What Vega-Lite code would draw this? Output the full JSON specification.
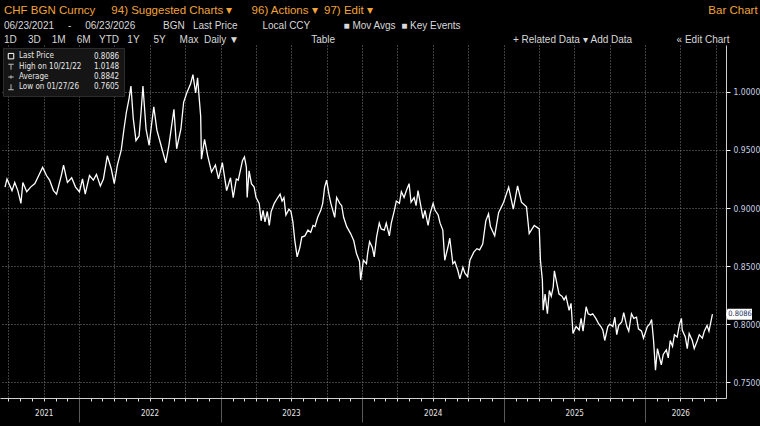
{
  "$schema": "https://vega.github.io/schema/vega-lite/v6.json",
  "description": "CHF BGN Curncy, last price, daily, 06/23/2021 - 06/23/2026",
  "width": 760,
  "height": 426,
  "autosize": {"type": "fit", "contains": "padding"},
  "padding": {"top": 4, "left": 0, "right": 0, "bottom": 3},
  "background": "#000000",
  "title": {
    "text": "CHF BGN Curncy\u00a0\u00a0\u00a0\u00a0\u00a094) Suggested Charts ▾\u00a0\u00a0\u00a0\u00a0\u00a0\u00a096) Actions ▾\u00a0\u00a097) Edit ▾\u00a0\u00a0\u00a0\u00a0\u00a0\u00a0\u00a0\u00a0\u00a0\u00a0\u00a0\u00a0\u00a0\u00a0\u00a0\u00a0\u00a0\u00a0\u00a0\u00a0\u00a0\u00a0\u00a0\u00a0\u00a0\u00a0\u00a0\u00a0\u00a0\u00a0\u00a0\u00a0\u00a0\u00a0\u00a0\u00a0\u00a0\u00a0\u00a0\u00a0\u00a0\u00a0\u00a0\u00a0\u00a0\u00a0\u00a0\u00a0\u00a0\u00a0\u00a0\u00a0\u00a0\u00a0\u00a0\u00a0\u00a0\u00a0\u00a0\u00a0\u00a0\u00a0\u00a0\u00a0\u00a0\u00a0\u00a0\u00a0\u00a0\u00a0\u00a0\u00a0\u00a0\u00a0\u00a0\u00a0\u00a0\u00a0\u00a0\u00a0\u00a0\u00a0\u00a0\u00a0\u00a0\u00a0\u00a0\u00a0\u00a0\u00a0\u00a0\u00a0\u00a0\u00a0\u00a0\u00a0\u00a0\u00a0\u00a0\u00a0\u00a0\u00a0\u00a0\u00a0\u00a0Bar Chart",
    "subtitle": [
      "06/23/2021\u00a0\u00a0\u00a0\u00a0\u00a0-\u00a0\u00a0\u00a0\u00a0\u00a006/23/2026\u00a0\u00a0\u00a0\u00a0\u00a0\u00a0\u00a0\u00a0\u00a0\u00a0BGN\u00a0\u00a0\u00a0Last Price\u00a0\u00a0\u00a0\u00a0\u00a0\u00a0\u00a0\u00a0\u00a0Local CCY\u00a0\u00a0\u00a0\u00a0\u00a0\u00a0\u00a0\u00a0\u00a0\u00a0\u00a0\u00a0■ Mov Avgs\u00a0\u00a0■ Key Events",
      "\u00a0\u00a01D\u00a0\u00a0\u00a0\u00a03D\u00a0\u00a0\u00a0\u00a01M\u00a0\u00a0\u00a0\u00a06M\u00a0\u00a0\u00a0YTD\u00a0\u00a0\u00a01Y\u00a0\u00a0\u00a0\u00a0\u00a05Y\u00a0\u00a0\u00a0\u00a0\u00a0Max\u00a0\u00a0Daily ▼\u00a0\u00a0\u00a0\u00a0\u00a0\u00a0\u00a0\u00a0\u00a0\u00a0\u00a0\u00a0\u00a0\u00a0\u00a0\u00a0\u00a0\u00a0\u00a0\u00a0\u00a0\u00a0\u00a0\u00a0\u00a0\u00a0Table\u00a0\u00a0\u00a0\u00a0\u00a0\u00a0\u00a0\u00a0\u00a0\u00a0\u00a0\u00a0\u00a0\u00a0\u00a0\u00a0\u00a0\u00a0\u00a0\u00a0\u00a0\u00a0\u00a0\u00a0\u00a0\u00a0\u00a0\u00a0\u00a0\u00a0\u00a0\u00a0\u00a0\u00a0\u00a0\u00a0\u00a0\u00a0\u00a0\u00a0\u00a0\u00a0\u00a0\u00a0\u00a0\u00a0\u00a0\u00a0\u00a0\u00a0\u00a0\u00a0\u00a0\u00a0\u00a0\u00a0\u00a0\u00a0\u00a0\u00a0\u00a0\u00a0\u00a0\u00a0+ Related Data ▾\u00a0Add Data\u00a0\u00a0\u00a0\u00a0\u00a0\u00a0\u00a0\u00a0\u00a0\u00a0\u00a0\u00a0\u00a0\u00a0\u00a0\u00a0« Edit Chart"
    ],
    "anchor": "start",
    "dx": 4,
    "font": "Liberation Sans, Arial, sans-serif",
    "subtitleFont": "Liberation Sans, Arial, sans-serif",
    "color": "#f2a33a",
    "fontSize": 11.5,
    "fontWeight": "normal",
    "subtitleColor": "#d8d8d8",
    "subtitleFontSize": 10,
    "subtitleLineHeight": 14,
    "subtitlePadding": 5,
    "offset": 0
  },
  "config": {
    "font": "Liberation Sans Narrow, DejaVu Sans Condensed, Liberation Sans, sans-serif",
    "view": {"stroke": null, "fill": "#000000"}
  },
  "data": {
    "values": [
      {"date": "2021-06-23", "price": 0.918}, {"date": "2021-06-28", "price": 0.925},
      {"date": "2021-07-11", "price": 0.915}, {"date": "2021-07-18", "price": 0.922},
      {"date": "2021-07-26", "price": 0.915}, {"date": "2021-08-03", "price": 0.904},
      {"date": "2021-08-08", "price": 0.922}, {"date": "2021-08-18", "price": 0.914},
      {"date": "2021-08-28", "price": 0.918}, {"date": "2021-09-08", "price": 0.921},
      {"date": "2021-09-18", "price": 0.928}, {"date": "2021-09-28", "price": 0.935},
      {"date": "2021-10-08", "price": 0.928}, {"date": "2021-10-16", "price": 0.924},
      {"date": "2021-10-26", "price": 0.915}, {"date": "2021-11-03", "price": 0.912},
      {"date": "2021-11-16", "price": 0.929}, {"date": "2021-11-21", "price": 0.937},
      {"date": "2021-12-01", "price": 0.922}, {"date": "2021-12-12", "price": 0.926},
      {"date": "2021-12-22", "price": 0.918}, {"date": "2022-01-01", "price": 0.914},
      {"date": "2022-01-09", "price": 0.925}, {"date": "2022-01-16", "price": 0.912},
      {"date": "2022-01-27", "price": 0.928}, {"date": "2022-02-06", "price": 0.924},
      {"date": "2022-02-14", "price": 0.929}, {"date": "2022-02-24", "price": 0.919},
      {"date": "2022-03-04", "price": 0.925}, {"date": "2022-03-14", "price": 0.945},
      {"date": "2022-03-24", "price": 0.934}, {"date": "2022-04-01", "price": 0.921},
      {"date": "2022-04-09", "price": 0.937}, {"date": "2022-04-19", "price": 0.950},
      {"date": "2022-04-26", "price": 0.968}, {"date": "2022-05-02", "price": 0.982},
      {"date": "2022-05-09", "price": 0.994}, {"date": "2022-05-14", "price": 1.005},
      {"date": "2022-05-20", "price": 0.977}, {"date": "2022-05-27", "price": 0.958},
      {"date": "2022-06-04", "price": 0.962}, {"date": "2022-06-09", "price": 0.982},
      {"date": "2022-06-14", "price": 1.005}, {"date": "2022-06-22", "price": 0.968},
      {"date": "2022-06-30", "price": 0.954}, {"date": "2022-07-07", "price": 0.974},
      {"date": "2022-07-12", "price": 0.987}, {"date": "2022-07-20", "price": 0.967},
      {"date": "2022-08-02", "price": 0.951}, {"date": "2022-08-12", "price": 0.939},
      {"date": "2022-08-20", "price": 0.954}, {"date": "2022-09-02", "price": 0.985},
      {"date": "2022-09-09", "price": 0.951}, {"date": "2022-09-20", "price": 0.968},
      {"date": "2022-09-27", "price": 0.991}, {"date": "2022-10-05", "price": 0.999},
      {"date": "2022-10-15", "price": 1.007}, {"date": "2022-10-21", "price": 1.0148},
      {"date": "2022-10-28", "price": 0.999}, {"date": "2022-11-02", "price": 1.012},
      {"date": "2022-11-10", "price": 0.979}, {"date": "2022-11-12", "price": 0.942},
      {"date": "2022-11-20", "price": 0.959}, {"date": "2022-11-28", "price": 0.945},
      {"date": "2022-12-08", "price": 0.931}, {"date": "2022-12-18", "price": 0.937},
      {"date": "2022-12-26", "price": 0.925}, {"date": "2023-01-05", "price": 0.939},
      {"date": "2023-01-16", "price": 0.915}, {"date": "2023-01-26", "price": 0.926},
      {"date": "2023-02-02", "price": 0.909}, {"date": "2023-02-10", "price": 0.925},
      {"date": "2023-02-15", "price": 0.924}, {"date": "2023-02-26", "price": 0.941},
      {"date": "2023-03-03", "price": 0.944}, {"date": "2023-03-08", "price": 0.935},
      {"date": "2023-03-10", "price": 0.909}, {"date": "2023-03-15", "price": 0.932},
      {"date": "2023-03-21", "price": 0.921}, {"date": "2023-03-28", "price": 0.918},
      {"date": "2023-04-02", "price": 0.909}, {"date": "2023-04-10", "price": 0.904},
      {"date": "2023-04-15", "price": 0.889}, {"date": "2023-04-20", "price": 0.898},
      {"date": "2023-04-25", "price": 0.888}, {"date": "2023-05-01", "price": 0.897},
      {"date": "2023-05-06", "price": 0.885}, {"date": "2023-05-11", "price": 0.897},
      {"date": "2023-05-19", "price": 0.904}, {"date": "2023-05-26", "price": 0.908},
      {"date": "2023-06-03", "price": 0.912}, {"date": "2023-06-08", "price": 0.906},
      {"date": "2023-06-13", "price": 0.909}, {"date": "2023-06-18", "price": 0.894},
      {"date": "2023-06-26", "price": 0.899}, {"date": "2023-07-01", "price": 0.897},
      {"date": "2023-07-06", "price": 0.888}, {"date": "2023-07-11", "price": 0.872},
      {"date": "2023-07-17", "price": 0.858}, {"date": "2023-07-24", "price": 0.866},
      {"date": "2023-07-29", "price": 0.875}, {"date": "2023-08-06", "price": 0.876},
      {"date": "2023-08-14", "price": 0.881}, {"date": "2023-08-21", "price": 0.879},
      {"date": "2023-08-27", "price": 0.885}, {"date": "2023-09-01", "price": 0.884},
      {"date": "2023-09-08", "price": 0.892}, {"date": "2023-09-16", "price": 0.898},
      {"date": "2023-09-21", "price": 0.904}, {"date": "2023-09-26", "price": 0.918},
      {"date": "2023-10-01", "price": 0.924}, {"date": "2023-10-07", "price": 0.912},
      {"date": "2023-10-12", "price": 0.904}, {"date": "2023-10-22", "price": 0.892},
      {"date": "2023-10-27", "price": 0.909}, {"date": "2023-11-04", "price": 0.904},
      {"date": "2023-11-09", "price": 0.902}, {"date": "2023-11-14", "price": 0.892},
      {"date": "2023-11-22", "price": 0.884}, {"date": "2023-12-02", "price": 0.878},
      {"date": "2023-12-10", "price": 0.872}, {"date": "2023-12-17", "price": 0.861},
      {"date": "2023-12-25", "price": 0.854}, {"date": "2023-12-28", "price": 0.838},
      {"date": "2024-01-04", "price": 0.855}, {"date": "2024-01-12", "price": 0.852},
      {"date": "2024-01-15", "price": 0.861}, {"date": "2024-01-20", "price": 0.871},
      {"date": "2024-01-27", "price": 0.866}, {"date": "2024-02-01", "price": 0.858},
      {"date": "2024-02-07", "price": 0.875}, {"date": "2024-02-14", "price": 0.887},
      {"date": "2024-02-19", "price": 0.882}, {"date": "2024-02-27", "price": 0.881},
      {"date": "2024-03-03", "price": 0.887}, {"date": "2024-03-11", "price": 0.876},
      {"date": "2024-03-16", "price": 0.887}, {"date": "2024-03-24", "price": 0.898},
      {"date": "2024-03-29", "price": 0.906}, {"date": "2024-04-06", "price": 0.904},
      {"date": "2024-04-11", "price": 0.914}, {"date": "2024-04-18", "price": 0.909},
      {"date": "2024-04-24", "price": 0.915}, {"date": "2024-05-01", "price": 0.921},
      {"date": "2024-05-06", "price": 0.905}, {"date": "2024-05-14", "price": 0.909},
      {"date": "2024-05-19", "price": 0.902}, {"date": "2024-05-24", "price": 0.915},
      {"date": "2024-05-29", "price": 0.906}, {"date": "2024-06-06", "price": 0.891},
      {"date": "2024-06-11", "price": 0.898}, {"date": "2024-06-19", "price": 0.885},
      {"date": "2024-06-24", "price": 0.895}, {"date": "2024-07-02", "price": 0.904},
      {"date": "2024-07-07", "price": 0.898}, {"date": "2024-07-15", "price": 0.894},
      {"date": "2024-07-20", "price": 0.887}, {"date": "2024-07-27", "price": 0.881},
      {"date": "2024-08-01", "price": 0.855}, {"date": "2024-08-09", "price": 0.866},
      {"date": "2024-08-14", "price": 0.874}, {"date": "2024-08-22", "price": 0.852},
      {"date": "2024-08-27", "price": 0.854}, {"date": "2024-09-04", "price": 0.846},
      {"date": "2024-09-09", "price": 0.839}, {"date": "2024-09-17", "price": 0.849},
      {"date": "2024-09-22", "price": 0.844}, {"date": "2024-09-29", "price": 0.841},
      {"date": "2024-10-05", "price": 0.855}, {"date": "2024-10-15", "price": 0.862},
      {"date": "2024-10-23", "price": 0.865}, {"date": "2024-10-30", "price": 0.864},
      {"date": "2024-11-07", "price": 0.869}, {"date": "2024-11-15", "price": 0.889},
      {"date": "2024-11-22", "price": 0.895}, {"date": "2024-11-27", "price": 0.884},
      {"date": "2024-12-08", "price": 0.876}, {"date": "2024-12-18", "price": 0.896},
      {"date": "2024-12-31", "price": 0.905}, {"date": "2025-01-13", "price": 0.918},
      {"date": "2025-01-25", "price": 0.899}, {"date": "2025-02-05", "price": 0.919},
      {"date": "2025-02-15", "price": 0.905}, {"date": "2025-02-28", "price": 0.901},
      {"date": "2025-03-07", "price": 0.878}, {"date": "2025-03-20", "price": 0.885},
      {"date": "2025-04-02", "price": 0.882}, {"date": "2025-04-05", "price": 0.855},
      {"date": "2025-04-10", "price": 0.838}, {"date": "2025-04-12", "price": 0.812},
      {"date": "2025-04-17", "price": 0.826}, {"date": "2025-04-23", "price": 0.809},
      {"date": "2025-04-28", "price": 0.829}, {"date": "2025-05-03", "price": 0.824},
      {"date": "2025-05-08", "price": 0.832}, {"date": "2025-05-11", "price": 0.846},
      {"date": "2025-05-18", "price": 0.834}, {"date": "2025-05-23", "price": 0.826},
      {"date": "2025-05-31", "price": 0.824}, {"date": "2025-06-05", "price": 0.821},
      {"date": "2025-06-10", "price": 0.824}, {"date": "2025-06-18", "price": 0.812},
      {"date": "2025-06-23", "price": 0.818}, {"date": "2025-06-28", "price": 0.792},
      {"date": "2025-07-06", "price": 0.798}, {"date": "2025-07-14", "price": 0.795},
      {"date": "2025-07-19", "price": 0.805}, {"date": "2025-07-24", "price": 0.794},
      {"date": "2025-08-01", "price": 0.815}, {"date": "2025-08-06", "price": 0.809},
      {"date": "2025-08-13", "price": 0.808}, {"date": "2025-08-18", "price": 0.809},
      {"date": "2025-08-26", "price": 0.805}, {"date": "2025-09-03", "price": 0.800},
      {"date": "2025-09-08", "price": 0.798}, {"date": "2025-09-13", "price": 0.795},
      {"date": "2025-09-18", "price": 0.786}, {"date": "2025-09-26", "price": 0.798},
      {"date": "2025-10-01", "price": 0.800}, {"date": "2025-10-09", "price": 0.798},
      {"date": "2025-10-14", "price": 0.806}, {"date": "2025-10-19", "price": 0.791},
      {"date": "2025-10-24", "price": 0.799}, {"date": "2025-11-01", "price": 0.802},
      {"date": "2025-11-06", "price": 0.810}, {"date": "2025-11-14", "price": 0.798},
      {"date": "2025-11-19", "price": 0.794}, {"date": "2025-11-26", "price": 0.809},
      {"date": "2025-12-02", "price": 0.805}, {"date": "2025-12-09", "price": 0.806},
      {"date": "2025-12-14", "price": 0.796}, {"date": "2025-12-22", "price": 0.794},
      {"date": "2025-12-27", "price": 0.788}, {"date": "2026-01-06", "price": 0.798},
      {"date": "2026-01-12", "price": 0.800}, {"date": "2026-01-17", "price": 0.804},
      {"date": "2026-01-22", "price": 0.786}, {"date": "2026-01-27", "price": 0.7605},
      {"date": "2026-02-01", "price": 0.779}, {"date": "2026-02-06", "price": 0.772},
      {"date": "2026-02-11", "price": 0.765}, {"date": "2026-02-16", "price": 0.774},
      {"date": "2026-02-24", "price": 0.778}, {"date": "2026-03-01", "price": 0.771},
      {"date": "2026-03-06", "price": 0.786}, {"date": "2026-03-12", "price": 0.781},
      {"date": "2026-03-17", "price": 0.791}, {"date": "2026-03-24", "price": 0.789},
      {"date": "2026-03-30", "price": 0.800}, {"date": "2026-04-04", "price": 0.805},
      {"date": "2026-04-06", "price": 0.795}, {"date": "2026-04-14", "price": 0.789},
      {"date": "2026-04-19", "price": 0.779}, {"date": "2026-04-24", "price": 0.792},
      {"date": "2026-05-02", "price": 0.786}, {"date": "2026-05-07", "price": 0.779},
      {"date": "2026-05-15", "price": 0.786}, {"date": "2026-05-20", "price": 0.791},
      {"date": "2026-05-28", "price": 0.788}, {"date": "2026-06-02", "price": 0.794},
      {"date": "2026-06-09", "price": 0.799}, {"date": "2026-06-14", "price": 0.794},
      {"date": "2026-06-23", "price": 0.8086}
    ]
  },
  "layer": [
    {
      "mark": {"type": "line", "color": "#ffffff", "strokeWidth": 1.3, "clip": true},
      "encoding": {
        "x": {
          "field": "date",
          "type": "temporal",
          "scale": {"domain": [{"year": 2021, "month": 6, "date": 10}, {"year": 2026, "month": 7, "date": 28}]},
          "axis": {
            "title": null,
            "tickCount": {"interval": "month", "step": 1},
            "labelExpr": "((month(datum.value)==6 && year(datum.value)>2021 && year(datum.value)<2026) || (year(datum.value)==2021 && month(datum.value)==9) || (year(datum.value)==2026 && month(datum.value)==3)) ? timeFormat(datum.value, '%Y') : ''",
            "labelOverlap": false,
            "labelColor": "#e6e6e6",
            "labelFontSize": 8,
            "labelPadding": {"condition": {"test": "month(datum.value)==0", "value": -21}, "value": 8},
            "domainColor": "#cfcfcf",
            "tickColor": {"condition": {"test": "month(datum.value)==0", "value": "#5a5a5a"}, "value": "#e0e0e0"},
            "tickSize": {"condition": {"test": "month(datum.value)==0", "value": 24}, "value": 3},
            "grid": true,
            "gridColor": "#8a8a8a",
            "gridDash": [1, 2],
            "gridOpacity": {"condition": {"test": "month(datum.value)%3==0", "value": 0.9}, "value": 0}
          }
        },
        "y": {
          "field": "price",
          "type": "quantitative",
          "scale": {"domain": [0.7365, 1.0403], "nice": false, "zero": false},
          "axis": {
            "title": null,
            "orient": "right",
            "values": [0.75, 0.775, 0.8, 0.825, 0.85, 0.875, 0.9, 0.925, 0.95, 0.975, 1.0, 1.025],
            "labelExpr": "abs(datum.value*20-round(datum.value*20))<0.01 ? format(datum.value, '.4f') : ''",
            "labelColor": "#c8d2e6",
            "labelFontSize": 8.5,
            "labelPadding": 3,
            "tickColor": "#ffffff",
            "tickSize": 4,
            "domainColor": "#cfcfcf",
            "grid": true,
            "gridColor": "#8a8a8a",
            "gridDash": [1, 2],
            "gridOpacity": {"condition": {"test": "abs(datum.value*20-round(datum.value*20))<0.01", "value": 0.9}, "value": 0}
          }
        }
      }
    },
    {
      "data": {
        "values": [
          {"item": "Last Price"}, {"item": "High on 10/21/22"},
          {"item": "Average"}, {"item": "Low on 01/27/26"},
          {"item": "0.8086"}, {"item": "1.0148"},
          {"item": "0.8842"}, {"item": "0.7605"}
        ]
      },
      "mark": {"type": "point", "opacity": 0},
      "encoding": {
        "color": {
          "field": "item",
          "type": "nominal",
          "scale": {
            "domain": ["Last Price", "High on 10/21/22", "Average", "Low on 01/27/26", "0.8086", "1.0148", "0.8842", "0.7605"],
            "range": ["#ffffff", "#bdbdbd", "#bdbdbd", "#bdbdbd", "transparent", "transparent", "transparent", "transparent"]
          },
          "legend": {
            "title": null, "orient": "top-left", "offset": 3, "columns": 2, "gridAlign": "each",
            "fillColor": "#151515", "strokeColor": "#2c2c2c", "padding": 4,
            "labelColor": "#e8e8e8", "labelFontSize": 8, "labelLimit": 120, "labelOffset": 4,
            "symbolSize": 30, "symbolStrokeWidth": 1, "symbolOpacity": 1,
            "rowPadding": 1, "columnPadding": 0
          }
        },
        "shape": {
          "field": "item",
          "type": "nominal",
          "scale": {
            "domain": ["Last Price", "High on 10/21/22", "Average", "Low on 01/27/26", "0.8086", "1.0148", "0.8842", "0.7605"],
            "range": ["square", "M-1,-1H1M0,-1V1", "M-1,0H1M0,-0.6V0.6", "M-1,1H1M0,1V-1", "M0,0", "M0,0", "M0,0", "M0,0"]
          },
          "legend": {
            "title": null, "orient": "top-left", "offset": 3, "columns": 2, "gridAlign": "each",
            "fillColor": "#151515", "strokeColor": "#2c2c2c", "padding": 4,
            "labelColor": "#e8e8e8", "labelFontSize": 8, "labelLimit": 120, "labelOffset": 4,
            "symbolSize": 30, "symbolStrokeWidth": 1, "symbolOpacity": 1,
            "rowPadding": 1, "columnPadding": 0
          }
        }
      }
    },
    {
      "data": {"values": [{"price": 0.8086, "label": "0.8086"}]},
      "mark": {"type": "point", "shape": "M0,0L0.15,-0.55H2.6V0.55H0.15Z", "filled": true, "color": "#ffffff", "opacity": 1, "size": 400, "clip": false},
      "encoding": {
        "x": {"value": "width"},
        "y": {"field": "price", "type": "quantitative"}
      }
    },
    {
      "data": {"values": [{"price": 0.8086, "label": "0.8086"}]},
      "mark": {"type": "text", "color": "#1d2f5c", "fontSize": 7.5, "align": "center", "baseline": "middle", "dx": 14, "clip": false},
      "encoding": {
        "x": {"value": "width"},
        "y": {"field": "price", "type": "quantitative"},
        "text": {"field": "label"}
      }
    }
  ]
}
